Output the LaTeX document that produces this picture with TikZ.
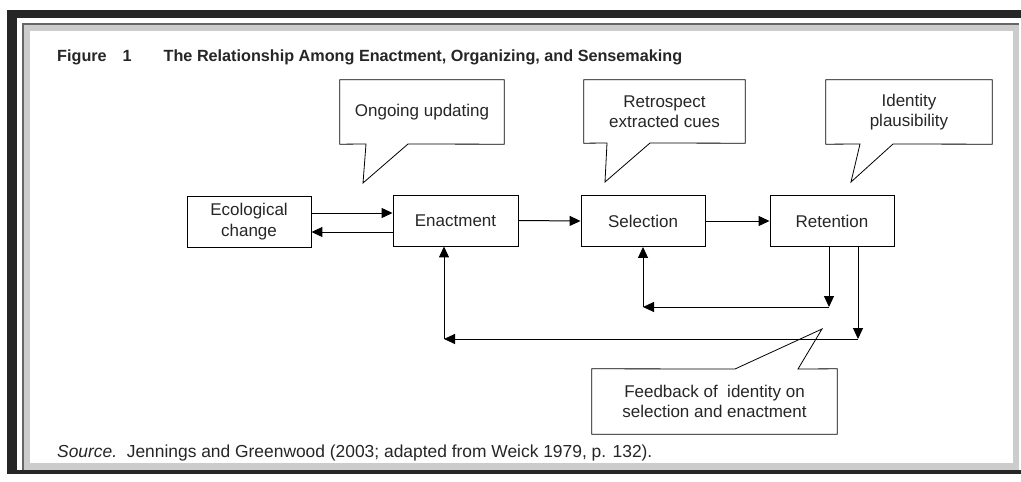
\documentclass[tikz,border=0pt]{standalone}
\usepackage{fontspec}
\setmainfont{Liberation Sans}
\usetikzlibrary{arrows.meta}

\begin{document}
\begin{tikzpicture}[x=1pt,y=-1pt,
  every node/.style={text=black!85,inner sep=0pt},
  box/.style={draw,line width=0.9pt,minimum width=124pt,minimum height=51pt,align=center,font=\fontsize{17}{21}\selectfont},
  note/.style={minimum width=164pt,minimum height=64pt,align=center,font=\fontsize{17}{20}\selectfont},
  bubble/.style={line width=0.8pt},
  link/.style={line width=1pt,-{Triangle[length=11pt,width=10pt]}}]
\useasboundingbox (0,0) rectangle (1021,482);
% frame
\fill[black!85] (7,10) rectangle (1021,474);
\fill[white] (17,18) rectangle (1021,470);
\fill[gray!40] (22,23) rectangle (1019,470);
\draw[black!60,line width=2pt] (23,470) -- (23,24) -- (1019,24);
\fill[white] (30,31) rectangle (1013,463);

\node[anchor=west,font=\bfseries\fontsize{16.2}{19}\selectfont] (title) at (57,57) {Figure\hspace{16pt}1\hspace{32pt}The Relationship Among Enactment, Organizing, and Sensemaking};
\node[anchor=west,font=\fontsize{17.4}{19}\selectfont] (src) at (57,453) {\textit{Source.}\ \ Jennings and Greenwood (2003; adapted from Weick 1979, p. 132).};

\node[box] (eco) at (249,222) {Ecological\\change};
\node[box,minimum width=125pt] (enact) at (455.5,220.5) {Enactment};
\node[box] (sel) at (643,221) {Selection};
\node[box] (ret) at (832,221) {Retention};

\node[note] (upd) at (422,112) {Ongoing updating};
\node[note,minimum width=161pt,minimum height=63pt] (cues) at (664.5,111.5) {Retrospect\\extracted cues};
\node[note,minimum width=166pt] (ident) at (909,112) {Identity\\plausibility};
\node[note,minimum width=245pt,minimum height=65pt] (fb) at (714.5,401.5) {Feedback of\ \ identity on\\selection and enactment};

\draw[bubble] (upd.north west) -- (upd.north east) -- (upd.south east) -- (408,144) -- (363,183) -- (366,144) -- (upd.south west) -- cycle;
\draw[bubble] (cues.north west) -- (cues.north east) -- (cues.south east) -- (650,143) -- (605,182) -- (607,143) -- (cues.south west) -- cycle;
\draw[bubble] (ident.north west) -- (ident.north east) -- (ident.south east) -- (893,144) -- (851,182) -- (860,144) -- (ident.south west) -- cycle;
\draw[bubble] (fb.north west) -- (735,369) -- (822,329) -- (798,369) -- (fb.north east) -- (fb.south east) -- (fb.south west) -- cycle;

\coordinate (inR) at (829,307);
\coordinate (inL) at (643,307);
\coordinate (outR) at (858,339);
\coordinate (outL) at (444,339);

\draw[link] (eco.east |- 0,213) -- (enact.west |- 0,213);
\draw[link] (enact.west |- 0,232) -- (eco.east |- 0,232);
\draw[link] (enact.east) -- (sel.west);
\draw[link] (sel.east) -- (ret.west);
\draw[link] (ret.south -| inR) -- (inR);
\draw[link] (inR) -- (inL);
\draw[link] (inL) -- (sel.south);
\draw[link] (ret.south -| outR) -- (outR);
\draw[link] (outR) -- (outL);
\draw[link] (outL) -- (enact.south -| outL);
\end{tikzpicture}
\end{document}
